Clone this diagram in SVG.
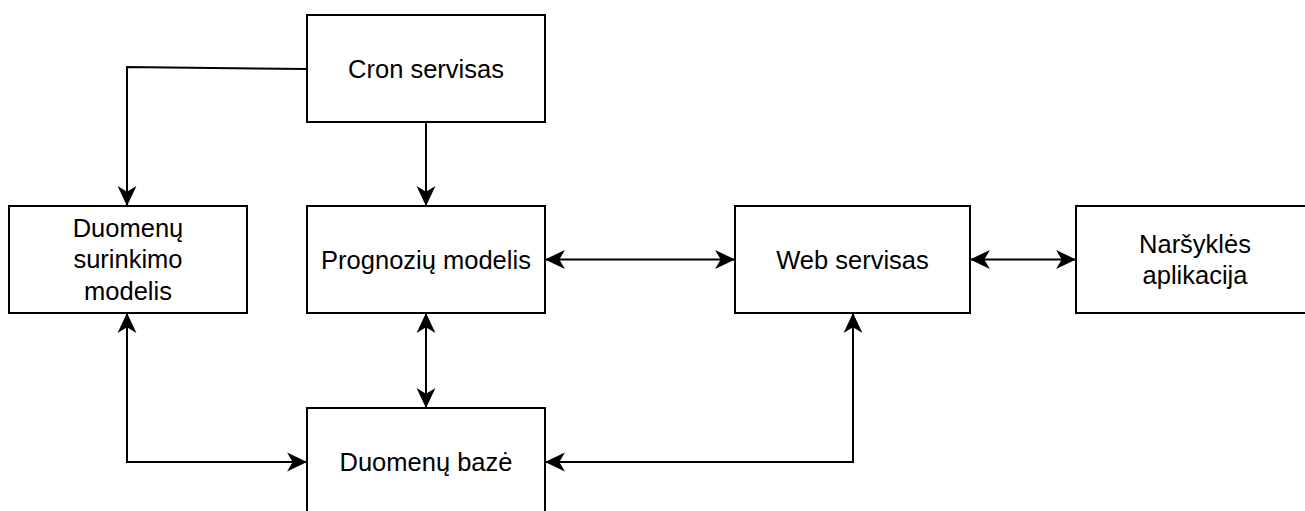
<svg xmlns="http://www.w3.org/2000/svg" width="1305" height="511" viewBox="0 0 1305 511">
  <style>
    .box { fill: #ffffff; stroke: #000000; stroke-width: 2; }
    .lbl { font-family: "Liberation Sans", Arial, Helvetica, sans-serif; font-size: 25.5px; fill: #000000; text-anchor: middle; }
    .edge { fill: none; stroke: #000000; stroke-width: 2; }
  </style>
  <defs>
    <marker id="arr" markerUnits="userSpaceOnUse" markerWidth="20" markerHeight="20" viewBox="0 0 18 18" refX="17" refY="9" orient="auto-start-reverse">
      <path d="M0,0.5 L18,9 L0,17.5 L5,9 Z" fill="#000000" stroke="none"/>
    </marker>
  </defs>
  <rect x="0" y="0" width="1305" height="511" fill="#ffffff"/>

  <g id="connectors">
    <polyline class="edge" points="307,69 127,67 127,205" marker-end="url(#arr)"/>
    <line class="edge" x1="426" y1="122" x2="426" y2="205" marker-end="url(#arr)"/>
    <line class="edge" x1="546" y1="259.5" x2="734" y2="259.5" marker-start="url(#arr)" marker-end="url(#arr)"/>
    <line class="edge" x1="971" y1="259.5" x2="1075" y2="259.5" marker-start="url(#arr)" marker-end="url(#arr)"/>
    <line class="edge" x1="426" y1="314" x2="426" y2="407" marker-start="url(#arr)" marker-end="url(#arr)"/>
    <polyline class="edge" points="127,314 127,462 306,462" marker-start="url(#arr)" marker-end="url(#arr)"/>
    <polyline class="edge" points="853,314 853,462 546,462" marker-start="url(#arr)" marker-end="url(#arr)"/>
  </g>

  <g id="cron">
    <rect class="box" x="307" y="15" width="238" height="107"/>
    <text class="lbl" x="426" y="77.5">Cron servisas</text>
  </g>
  <g id="duomenu-surinkimo">
    <rect class="box" x="9" y="206" width="238" height="107"/>
    <text class="lbl" x="128" y="236.5">Duomenų</text>
    <text class="lbl" x="128" y="268">surinkimo</text>
    <text class="lbl" x="128" y="299.5">modelis</text>
  </g>
  <g id="prognoziu">
    <rect class="box" x="307" y="206" width="238" height="107"/>
    <text class="lbl" x="426" y="268.5">Prognozių modelis</text>
  </g>
  <g id="web">
    <rect class="box" x="735" y="206" width="235" height="107"/>
    <text class="lbl" x="852.5" y="268.5">Web servisas</text>
  </g>
  <g id="narsykles">
    <rect class="box" x="1076" y="206" width="238" height="107"/>
    <text class="lbl" x="1195" y="252.5">Naršyklės</text>
    <text class="lbl" x="1195" y="284">aplikacija</text>
  </g>
  <g id="duomenu-baze">
    <rect class="box" x="307" y="408" width="238" height="107"/>
    <text class="lbl" x="426" y="471">Duomenų bazė</text>
  </g>
</svg>
